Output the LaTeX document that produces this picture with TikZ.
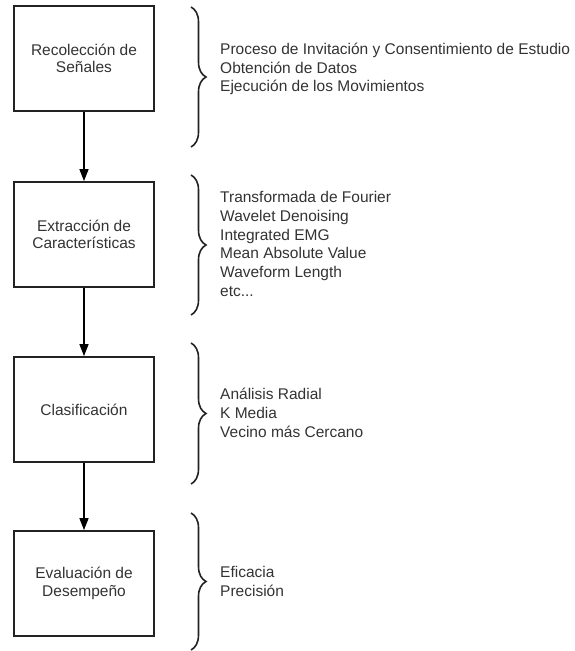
\documentclass[tikz,border=0pt]{standalone}
\usepackage{fontspec}
\setmainfont{Liberation Sans}
\usetikzlibrary{arrows.meta,decorations.pathreplacing}
\definecolor{txt}{HTML}{333333}
\definecolor{ln}{HTML}{222222}
\tikzset{
  stepbox/.style={draw=ln, line width=1.8pt, fill=white, minimum width=140pt, minimum height=105pt,
    inner sep=0pt, align=center, text=txt, font=\fontsize{15.5}{17.5}\selectfont},
  flow/.style={draw=black, line width=1.4pt, -{Triangle[length=12pt,width=9pt]}},
  curly/.style={draw=ln, line width=1.6pt, decorate, decoration={brace, amplitude=15pt}},
  items/.style={anchor=west, inner sep=0pt, align=left, text=txt, font=\fontsize{15.5}{18.8}\selectfont}
}
\begin{document}
\begin{tikzpicture}[x=1pt,y=-1pt]
\useasboundingbox (0,0) rectangle (574,651);
\node[stepbox] (s1) at (84,58.5) {Recolección de\\Señales};
\node[stepbox] (s2) at (84,234.5) {Extracción de\\Características};
\node[stepbox] (s3) at (84,409.5) {Clasificación};
\node[stepbox] (s4) at (84,583.5) {Evaluación de\\Desempeño};
\draw[flow] (s1) -- (s2);
\draw[flow] (s2) -- (s3);
\draw[flow] (s3) -- (s4);
\coordinate (b1t) at (191,7);   \coordinate (b1b) at (191,147);
\coordinate (b2t) at (191,175); \coordinate (b2b) at (191,315);
\coordinate (b3t) at (191,343); \coordinate (b3b) at (191,484);
\coordinate (b4t) at (191,513); \coordinate (b4b) at (191,650);
\draw[curly] (b1t) -- (b1b);
\draw[curly] (b2t) -- (b2b);
\draw[curly] (b3t) -- (b3b);
\draw[curly] (b4t) -- (b4b);
\node[items] (t1) at (220,69) {Proceso de Invitación y Consentimiento de Estudio\\Obtención de Datos\\Ejecución de los Movimientos};
\node[items] (t2) at (220,244) {Transformada de Fourier\\Wavelet Denoising\\Integrated EMG\\Mean Absolute Value\\Waveform Length\\etc...};
\node[items] (t3) at (220,413) {Análisis Radial\\K Media\\Vecino más Cercano};
\node[items] (t4) at (220,581.5) {Eficacia\\Precisión};
\end{tikzpicture}
\end{document}
